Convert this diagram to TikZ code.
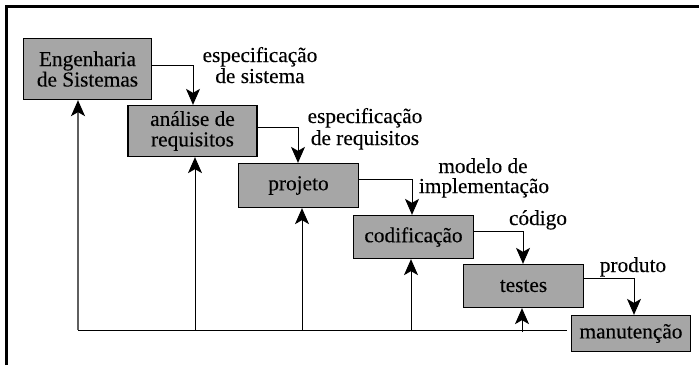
\documentclass[tikz,border=0pt]{standalone}
\usepackage{fontspec}
\setmainfont{Liberation Serif}[FakeBold=0.2]
\usetikzlibrary{arrows.meta}
\definecolor{boxgray}{RGB}{166,166,166}
\definecolor{fbgray}{RGB}{95,95,95}
\begin{document}
\begin{tikzpicture}[x=1pt,y=-1pt,
  box/.style={draw=black, line width=1.3pt, fill=boxgray, inner sep=0pt, align=center,
              font=\fontsize{21.3}{20.5}\selectfont},
  lbl/.style={anchor=base, inner sep=0pt, font=\fontsize{21.3}{20.5}\selectfont},
  flow/.style={line width=0.9pt, -{Stealth[length=16pt,width=14pt,inset=4pt]}},
  fb/.style={line width=1pt},
  frameline/.style={line width=3.3pt}]
\useasboundingbox (0,0) rectangle (699,365);
% frame (top and left only)
\draw[frameline] (6.8,365) -- (6.8,6.8) -- (699,6.8);
% boxes
\node[box, minimum width=128pt, minimum height=61pt] (eng)  at (87.5,69)   {Engenharia\\de Sistemas};
\node[box, minimum width=129pt, minimum height=51pt] (ana)  at (192.5,131)  {análise de\\requisitos};
\node[box, minimum width=120pt, minimum height=44pt] (proj) at (298.5,185.5) {projeto};
\node[box, minimum width=120pt, minimum height=43pt] (cod)  at (413.5,237)  {codificação};
\node[box, minimum width=120pt, minimum height=43pt] (test) at (523.5,286)  {testes};
\node[box, minimum width=119pt, minimum height=36pt] (man)  at (631,333.5)  {manutenção};
% forward connectors
\coordinate (k1) at (193,65);
\coordinate (k2) at (298,127);
\coordinate (k3) at (412,179);
\coordinate (k4) at (523,231);
\coordinate (k5) at (634,278);
\draw[flow] (eng.east |- k1)  -- (k1) -- (k1 |- ana.north);
\draw[flow] (ana.east |- k2)  -- (k2) -- (k2 |- proj.north);
\draw[flow] (proj.east |- k3) -- (k3) -- (k3 |- cod.north);
\draw[flow] (cod.east |- k4)  -- (k4) -- (k4 |- test.north);
\draw[flow] (test.east |- k5) -- (k5) -- (k5 |- man.north);
% labels
\node[lbl] (l1a) at (260,62)  {especificação};
\node[lbl] (l1b) at (260,83)  {de sistema};
\node[lbl] (l2a) at (365,123) {especificação};
\node[lbl] (l2b) at (365,145) {de requisitos};
\node[lbl] (l3a) at (483,173) {modelo de};
\node[lbl] (l3b) at (484,193) {implementação};
\node[lbl] (l4)  at (538,225) {código};
\node[lbl] (l5)  at (633,272) {produto};
% feedback
\coordinate (f0) at (78,330);
\coordinate (f1) at (195,330);
\coordinate (f2) at (302,330);
\coordinate (f3) at (411,330);
\coordinate (f4) at (522,332);
\coordinate (fend) at (567,330);
\draw[fb] (f0) -- (fend);
\draw[line width=1.5pt, draw=fbgray, -{Stealth[length=16pt,width=14pt,inset=4pt,color=black]}] (f0) -- (f0 |- eng.south);
\draw[flow] (f1) -- (f1 |- ana.south);
\draw[flow] (f2) -- (f2 |- proj.south);
\draw[flow] (f3) -- (f3 |- cod.south);
\draw[flow] (f4) -- (f4 |- test.south);
\end{tikzpicture}
\end{document}
